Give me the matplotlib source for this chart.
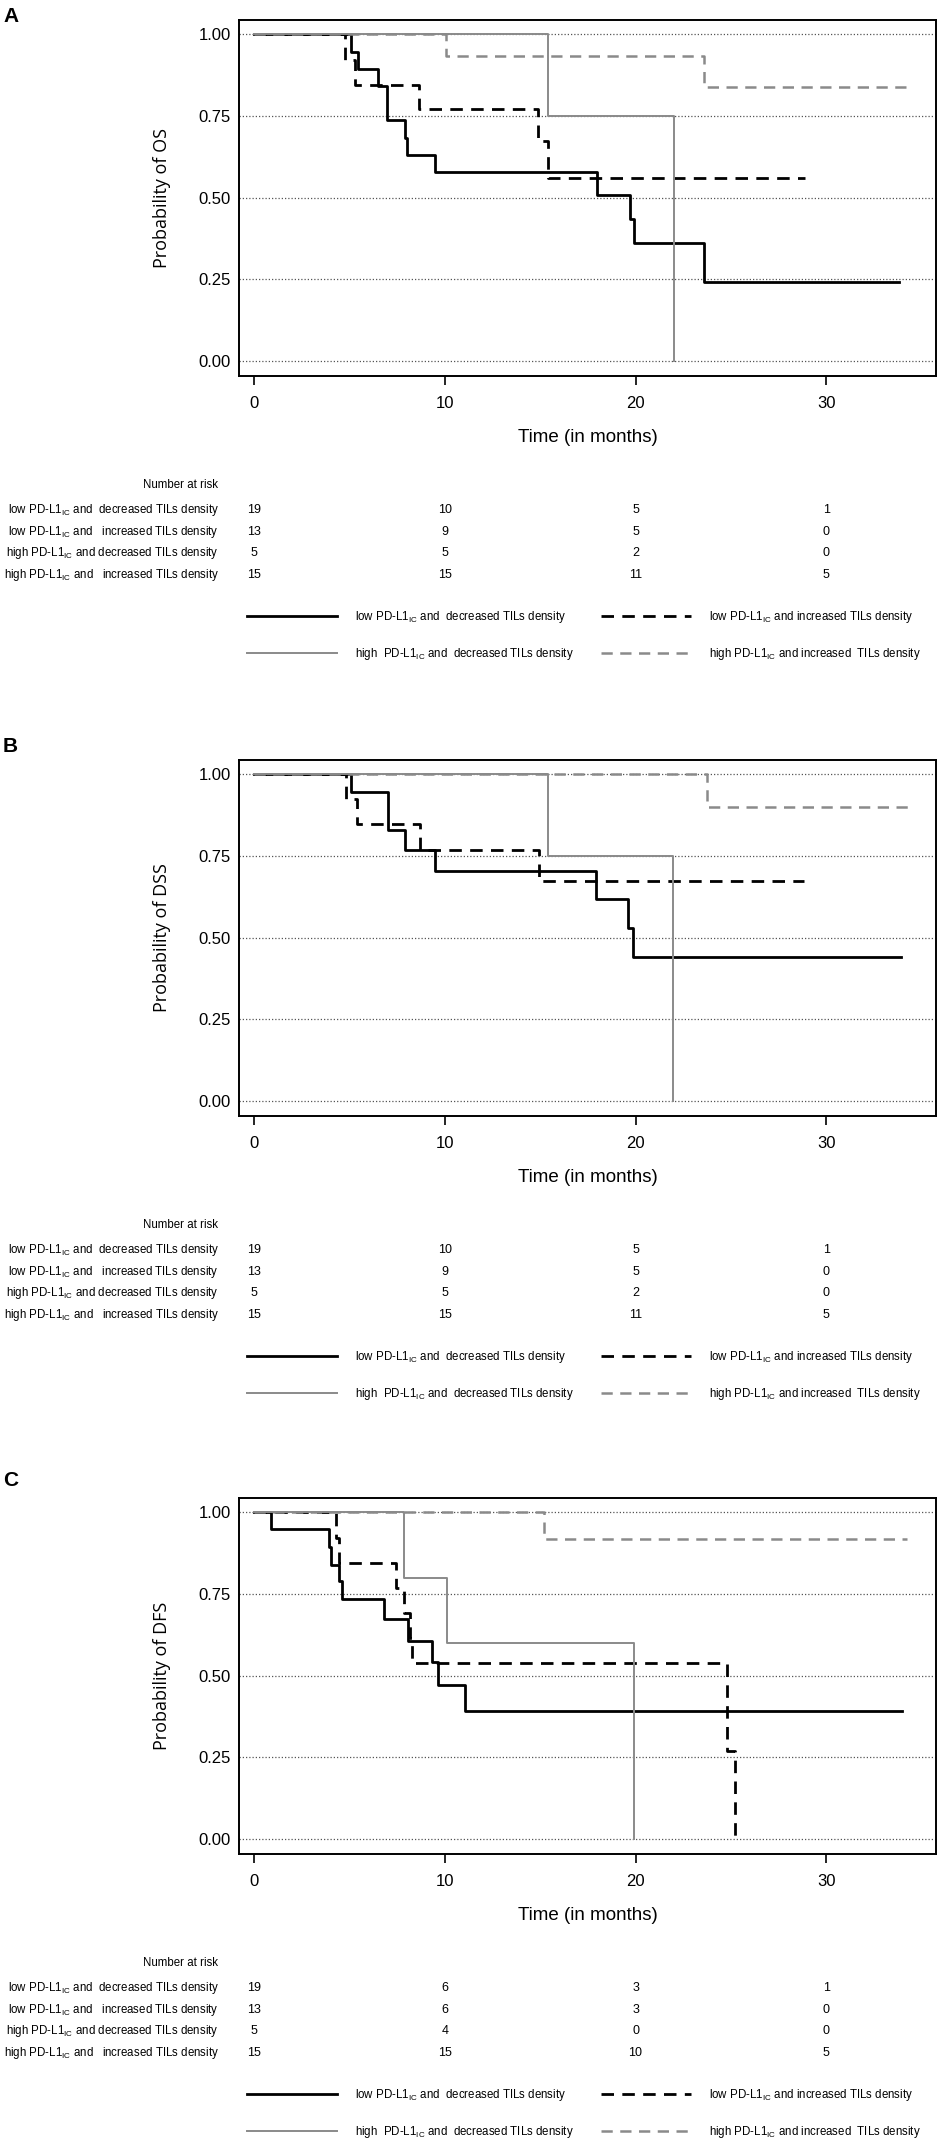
import matplotlib
matplotlib.use('Agg')
import matplotlib.pyplot as plt
import matplotlib.transforms as mtransforms

plt.rcParams['font.family'] = ['Liberation Sans', 'DejaVu Sans']
plt.rcParams['mathtext.default'] = 'regular'

W, H = 945, 2148
GRAY = '#8a8a8a'

# group names (table rows / legend)
row_labels = ['low PD-L1$_{IC}$ and  decreased TILs density',
              'low PD-L1$_{IC}$ and   increased TILs density',
              'high PD-L1$_{IC}$ and decreased TILs density',
              'high PD-L1$_{IC}$ and   increased TILs density']
legend_labels = ['low PD-L1$_{IC}$ and  decreased TILs density',
                 'low PD-L1$_{IC}$ and increased TILs density',
                 'high  PD-L1$_{IC}$ and  decreased TILs density',
                 'high PD-L1$_{IC}$ and increased  TILs density']
risk_times = [0, 10, 20, 30]

# A - overall survival
os_t_low_dec = [0, 5.1, 5.45, 6.5, 6.95, 7.9, 8.0, 9.5, 18.0, 19.7, 19.9, 23.6, 33.8]
os_s_low_dec = [1.0, 0.947, 0.895, 0.842, 0.737, 0.684, 0.632, 0.579, 0.507, 0.434, 0.362, 0.241, 0.241]
os_t_low_inc = [0, 4.78, 5.3, 8.64, 14.9, 15.4, 28.9]
os_s_low_inc = [1.0, 0.922, 0.845, 0.770, 0.672, 0.561, 0.561]
os_t_high_dec = [0, 15.4, 22.0]
os_s_high_dec = [1.0, 0.75, 0.0]
os_t_high_inc = [0, 10.06, 23.6, 34.3]
os_s_high_inc = [1.0, 0.933, 0.838, 0.838]
os_risk = [[19, 10, 5, 1], [13, 9, 5, 0], [5, 5, 2, 0], [15, 15, 11, 5]]

# B - disease specific survival
dss_t_low_dec = [0, 5.09, 7.0, 7.92, 9.49, 17.93, 19.63, 19.89, 33.9]
dss_s_low_dec = [1.0, 0.947, 0.829, 0.768, 0.705, 0.617, 0.529, 0.44, 0.44]
dss_t_low_inc = [0, 4.79, 5.4, 8.67, 14.93, 28.85]
dss_s_low_inc = [1.0, 0.924, 0.847, 0.769, 0.672, 0.672]
dss_t_high_dec = [0, 15.43, 21.95]
dss_s_high_dec = [1.0, 0.75, 0.0]
dss_t_high_inc = [0, 23.77, 34.4]
dss_s_high_inc = [1.0, 0.9, 0.9]
dss_risk = [[19, 10, 5, 1], [13, 9, 5, 0], [5, 5, 2, 0], [15, 15, 11, 5]]

# C - disease free survival
dfs_t_low_dec = [0, 0.89, 3.9, 4.0, 4.42, 4.58, 6.78, 8.06, 9.33, 9.63, 11.08, 34.0]
dfs_s_low_dec = [1.0, 0.948, 0.894, 0.84, 0.789, 0.736, 0.674, 0.607, 0.541, 0.471, 0.393, 0.393]
dfs_t_low_inc = [0, 4.3, 4.42, 7.45, 7.87, 8.18, 8.27, 24.8, 25.2]
dfs_s_low_inc = [1.0, 0.922, 0.846, 0.769, 0.692, 0.615, 0.538, 0.269, 0.0]
dfs_t_high_dec = [0, 7.88, 10.1, 19.9]
dfs_s_high_dec = [1.0, 0.8, 0.6, 0.0]
dfs_t_high_inc = [0, 15.19, 34.25]
dfs_s_high_inc = [1.0, 0.917, 0.917]
dfs_risk = [[19, 6, 3, 1], [13, 6, 3, 0], [5, 4, 0, 0], [15, 15, 10, 5]]

styles = [dict(color='black', lw=2.0, ls='-'),
          dict(color='black', lw=2.0, ls=(0, (4.5, 3.0))),
          dict(color=GRAY, lw=1.4, ls='-'),
          dict(color=GRAY, lw=1.8, ls=(0, (4.5, 3.0)))]

panels = [
    ('A', 'Probability of OS', 0, 17,
     [(os_t_low_dec, os_s_low_dec), (os_t_low_inc, os_s_low_inc),
      (os_t_high_dec, os_s_high_dec), (os_t_high_inc, os_s_high_inc)], os_risk),
    ('B', 'Probability of DSS', 740, 747,
     [(dss_t_low_dec, dss_s_low_dec), (dss_t_low_inc, dss_s_low_inc),
      (dss_t_high_dec, dss_s_high_dec), (dss_t_high_inc, dss_s_high_inc)], dss_risk),
    ('C', 'Probability of DFS', 1478, 1480,
     [(dfs_t_low_dec, dfs_s_low_dec), (dfs_t_low_inc, dfs_s_low_inc),
      (dfs_t_high_dec, dfs_s_high_dec), (dfs_t_high_inc, dfs_s_high_inc)], dfs_risk),
]

FS = 8.3


def fy(py):
    return 1 - py / H


fig = plt.figure(figsize=(W / 100, H / 100), dpi=100)

for letter, ylab, d, ly, curves, risk in panels:
    top, bottom, left, right = 20 + d, 376 + d, 239, 936
    ax = fig.add_axes([left / W, fy(bottom), (right - left) / W, (bottom - top) / H])

    handles = [None] * 4
    for i in [0, 1, 3, 2]:
        t, s = curves[i]
        handles[i], = ax.step(t, s, where='post', **styles[i])

    ax.set_xlim(-0.8, 35.76)
    ax.set_ylim(-0.046, 1.044)
    ax.set_xticks(risk_times)
    ax.set_yticks([0, 0.25, 0.5, 0.75, 1.0])
    ax.set_yticklabels(['0.00', '0.25', '0.50', '0.75', '1.00'])
    ax.yaxis.grid(True, color='#555555', lw=0.9, ls=(0, (1, 1.6)))
    ax.set_axisbelow(True)
    for sp in ax.spines.values():
        sp.set_linewidth(1.4)
    ax.tick_params(axis='x', length=6.5, width=1.2, pad=8, labelsize=12)
    ax.tick_params(axis='y', length=0, pad=6, labelsize=12)

    ax.set_ylabel(ylab, family=['Open Sans', 'DejaVu Sans'], fontsize=13)
    ax.yaxis.label.set_va('center')
    ax.yaxis.set_label_coords((162 - left) / (right - left), 0.5)
    ax.set_xlabel('Time (in months)', fontsize=13.5)
    ax.xaxis.label.set_va('center')
    ax.xaxis.set_label_coords(0.5, -62 / (bottom - top))

    fig.text(3 / W, fy(ly), letter, fontsize=15, fontweight='bold', va='center', ha='left')

    # number at risk table
    fig.text(218 / W, fy(485 + d), 'Number at risk', fontsize=FS, ha='right', va='center')
    trans = mtransforms.blended_transform_factory(ax.transData, fig.transFigure)
    for r, (lab, vals) in enumerate(zip(row_labels, risk)):
        yy = fy(510 + d + r * 21.7)
        fig.text(219 / W, yy, lab, fontsize=FS, ha='right', va='center')
        for tt, v in zip(risk_times, vals):
            ax.text(tt, yy, str(v), transform=trans, fontsize=FS + 0.7, ha='center', va='center')

    order = [0, 2, 1, 3]
    fig.legend([handles[k] for k in order], [legend_labels[k] for k in order],
               ncol=2, loc='upper left',
               bbox_to_anchor=(247 / W, fy(609 + d)), frameon=False,
               fontsize=FS, borderaxespad=0, borderpad=0,
               handlelength=7.8, handletextpad=1.55, columnspacing=2.4,
               labelspacing=1.85)

fig.savefig('out.png', dpi=100)
